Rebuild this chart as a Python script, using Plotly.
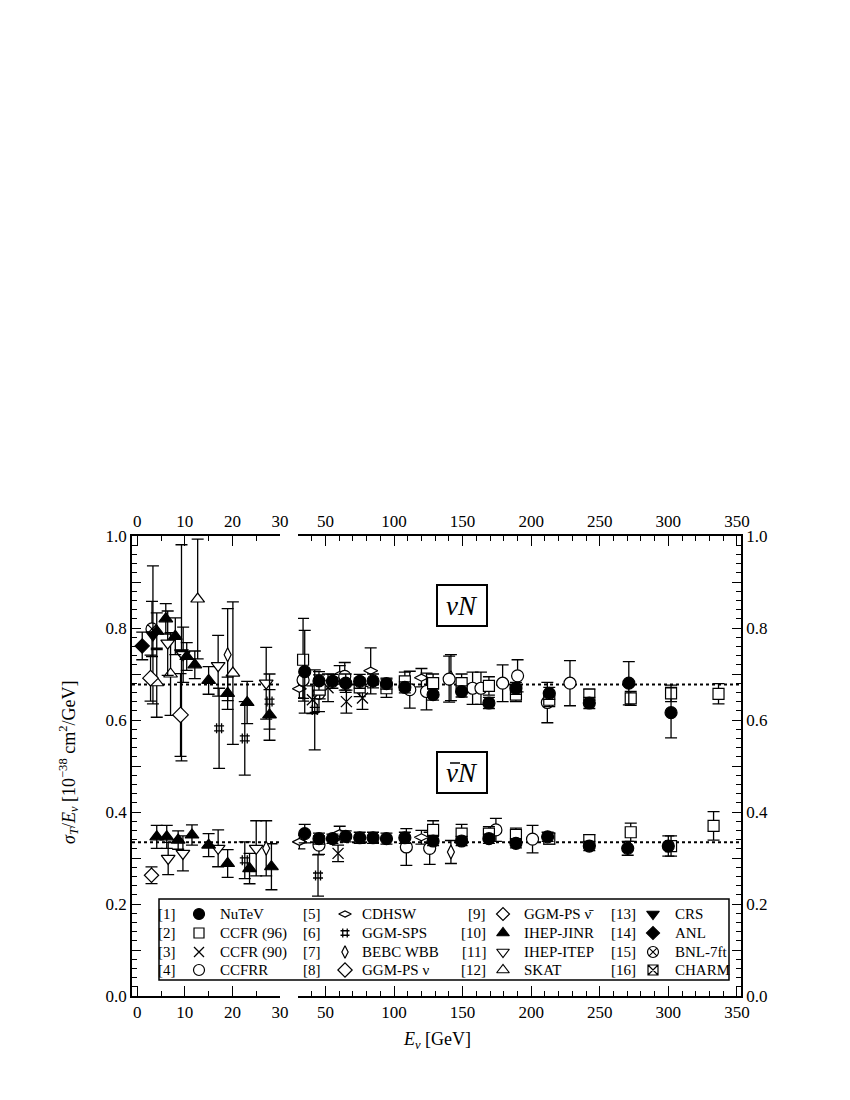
import plotly.graph_objects as go

FONT = "Liberation Serif"

# ---------------------------------------------------------------------------
# data: beam energy E [GeV], sigma_T / E [1e-38 cm^2/GeV] and its error
# "NU" = neutrino, "NB" = antineutrino
# ---------------------------------------------------------------------------
NUTEV_NU_E = [34.9, 45.3, 55.1, 64.8, 75.0, 84.7, 94.5, 107.9, 128.5, 149.3, 169.2, 188.9, 213.2, 242.4, 271.2, 302.0]
NUTEV_NU = [0.705, 0.685, 0.684, 0.680, 0.684, 0.685, 0.679, 0.671, 0.655, 0.662, 0.637, 0.669, 0.658, 0.637, 0.680, 0.616]
NUTEV_NU_ERR = [0.090, 0.020, 0.015, 0.020, 0.015, 0.015, 0.012, 0.012, 0.012, 0.012, 0.012, 0.013, 0.013, 0.012, 0.047, 0.055]
NUTEV_NB_E = [34.9, 45.3, 55.1, 64.8, 75.0, 84.7, 94.5, 107.9, 128.5, 149.3, 169.2, 188.9, 212.0, 242.4, 270.4, 300.0]
NUTEV_NB = [0.353, 0.342, 0.342, 0.347, 0.344, 0.344, 0.342, 0.344, 0.337, 0.337, 0.342, 0.332, 0.346, 0.326, 0.321, 0.326]
NUTEV_NB_ERR = [0.020, 0.012, 0.010, 0.012, 0.012, 0.012, 0.012, 0.012, 0.010, 0.010, 0.010, 0.010, 0.010, 0.010, 0.015, 0.022]

CCFR96_NU_E = [33.7, 45.8, 75.0, 94.5, 107.9, 128.5, 149.3, 169.2, 188.9, 213.2, 242.4, 272.6, 302.0, 336.6]
CCFR96_NU = [0.731, 0.666, 0.671, 0.669, 0.684, 0.680, 0.680, 0.674, 0.655, 0.644, 0.655, 0.647, 0.658, 0.657]
CCFR96_NU_ERR = [0.090, 0.020, 0.020, 0.020, 0.020, 0.020, 0.020, 0.020, 0.015, 0.015, 0.012, 0.015, 0.018, 0.022]
CCFR96_NB_E = [128.5, 149.3, 169.2, 188.9, 213.2, 242.4, 272.6, 302.0, 333.0]
CCFR96_NB = [0.361, 0.353, 0.353, 0.350, 0.342, 0.339, 0.356, 0.326, 0.370]
CCFR96_NB_ERR = [0.020, 0.020, 0.015, 0.015, 0.012, 0.012, 0.020, 0.022, 0.031]

CCFR90_NU_E = [40.5, 51.9, 65.3, 77.0]
CCFR90_NU = [0.644, 0.670, 0.640, 0.648]
CCFR90_NU_ERR = [0.030, 0.030, 0.025, 0.025]
CCFR90_NB_E = [59.2]
CCFR90_NB = [0.310]
CCFR90_NB_ERR = [0.018]

CCFRR_NU_E = [33.7, 45.3, 64.1, 111.5, 123.7, 140.2, 157.3, 163.4, 179.2, 190.1, 211.8, 228.3]
CCFRR_NU = [0.687, 0.658, 0.695, 0.666, 0.662, 0.689, 0.669, 0.669, 0.680, 0.696, 0.638, 0.680]
CCFRR_NU_ERR = [0.040, 0.040, 0.030, 0.040, 0.040, 0.050, 0.035, 0.035, 0.040, 0.035, 0.044, 0.049]
CCFRR_NB_E = [45.3, 109.0, 126.0, 174.3, 201.0]
CCFRR_NB = [0.328, 0.324, 0.321, 0.361, 0.341]
CCFRR_NB_ERR = [0.020, 0.040, 0.035, 0.025, 0.030]

CDHSW_NU_E = [31.0, 60.4, 83.0, 120.0]
CDHSW_NU = [0.668, 0.698, 0.707, 0.692]
CDHSW_NU_ERR = [0.020, 0.020, 0.050, 0.020]
CDHSW_NB_E = [31.0, 60.4, 120.0]
CDHSW_NB = [0.335, 0.354, 0.345]
CDHSW_NB_ERR = [0.015, 0.015, 0.015]

GGMSPS_NU_E = [17.2, 22.6, 27.8, 42.2]
GGMSPS_NU = [0.582, 0.560, 0.640, 0.622]
GGMSPS_NU_ERR = [0.087, 0.080, 0.060, 0.087]
GGMSPS_NB_E = [22.6, 44.6]
GGMSPS_NB = [0.295, 0.262]
GGMSPS_NB_ERR = [0.040, 0.045]

BEBC_NU_E = [19.0, 141.5]
BEBC_NU = [0.742, 0.692]
BEBC_NU_ERR = [0.100, 0.050]
BEBC_NB_E = [27.1, 141.5]
BEBC_NB = [0.321, 0.313]
BEBC_NB_ERR = [0.060, 0.025]

GGMPS_NU_E = [2.8, 9.1]
GGMPS_NU = [0.691, 0.611]
GGMPS_NU_ERR = [0.050, 0.090]

GGMPS_NB_E = [3.0]
GGMPS_NB = [0.2625]
GGMPS_NB_ERR = [0.018]

JINR_NU_E = [4.1, 6.0, 8.0, 10.4, 12.1, 15.0, 19.0, 23.1, 27.8]
JINR_NU = [0.793, 0.820, 0.782, 0.738, 0.720, 0.686, 0.658, 0.638, 0.611]
JINR_NU_ERR = [0.040, 0.033, 0.040, 0.030, 0.030, 0.030, 0.035, 0.046, 0.055]
JINR_NB_E = [4.1, 6.2, 8.6, 11.5, 15.0, 19.0, 23.6, 28.2]
JINR_NB = [0.346, 0.346, 0.339, 0.350, 0.328, 0.288, 0.277, 0.281]
JINR_NB_ERR = [0.025, 0.025, 0.020, 0.022, 0.025, 0.030, 0.033, 0.050]

ITEP_NU_E = [6.4, 9.65, 17.0, 27.1]
ITEP_NU = [0.767, 0.742, 0.718, 0.680]
ITEP_NU_ERR = [0.070, 0.060, 0.066, 0.078]
ITEP_NB_E = [6.5, 9.6, 17.0, 25.0]
ITEP_NB = [0.299, 0.310, 0.321, 0.321]
ITEP_NB_ERR = [0.035, 0.038, 0.040, 0.060]

SKAT_NU_E = [4.1, 7.0, 12.7, 20.1]
SKAT_NU = [0.681, 0.700, 0.863, 0.702]
SKAT_NU_ERR = [0.075, 0.090, 0.130, 0.155]

CRS_NU_E = [3.3, 9.3]
CRS_NU = [0.785, 0.746]
CRS_NU_ERR = [0.150, 0.235]

ANL_NU_E = [1.05]
ANL_NU = [0.761]
ANL_NU_ERR = [0.030]

BNL_NU_E = [3.1]
BNL_NU = [0.798]
BNL_NU_ERR = [0.060]

NU_AVG = 0.677
NB_AVG = 0.334

X_LEFT_TICKS = [0, 10, 20, 30]
X_RIGHT_TICKS = [50, 100, 150, 200, 250, 300, 350]
Y_LABEL_TICKS = [0.0, 0.2, 0.4, 0.6, 0.8, 1.0]
Y_MID_TICKS = [0.1, 0.3, 0.5, 0.7, 0.9]

# ---------------------------------------------------------------------------
# page geometry; the browser puts the figure 8 px in from the page corner,
# so everything below is given in screenshot pixels and shifted back
# ---------------------------------------------------------------------------
PAGE_W, PAGE_H = 850, 1100
OFF = 8
W, H = PAGE_W - OFF, PAGE_H - OFF
FRAME_L, FRAME_R, FRAME_T, FRAME_B = 132, 741, 536, 996
ML, MR, MT, MB = FRAME_L - OFF, PAGE_W - FRAME_R, FRAME_T - OFF, PAGE_H - FRAME_B
PW = FRAME_R - FRAME_L
PH = FRAME_B - FRAME_T
BREAK_E = 30.0
LEFT_RANGE = [-1.1, 30.0]
RIGHT_RANGE = [30.0, 353.0]
LEFT_END_PX = 280
RIGHT_START_PX = 298


def px_x(px):
    return (px - FRAME_L) / PW


def px_y(py):
    return (FRAME_B - py) / PH


NUBAR = "\u03bd\u0304"

# (ref, label, symbol, filled, size, nu data, nubar data)
EXPERIMENTS = [
    (1, "NuTeV", "circle", True, 12, (NUTEV_NU_E, NUTEV_NU, NUTEV_NU_ERR), (NUTEV_NB_E, NUTEV_NB, NUTEV_NB_ERR)),
    (2, "CCFR (96)", "square", False, 11, (CCFR96_NU_E, CCFR96_NU, CCFR96_NU_ERR), (CCFR96_NB_E, CCFR96_NB, CCFR96_NB_ERR)),
    (3, "CCFR (90)", "x-thin-open", False, 11, (CCFR90_NU_E, CCFR90_NU, CCFR90_NU_ERR), (CCFR90_NB_E, CCFR90_NB, CCFR90_NB_ERR)),
    (4, "CCFRR", "circle", False, 12, (CCFRR_NU_E, CCFRR_NU, CCFRR_NU_ERR), (CCFRR_NB_E, CCFRR_NB, CCFRR_NB_ERR)),
    (5, "CDHSW", "diamond-wide", False, 10, (CDHSW_NU_E, CDHSW_NU, CDHSW_NU_ERR), (CDHSW_NB_E, CDHSW_NB, CDHSW_NB_ERR)),
    (6, "GGM-SPS", "hash-open", False, 10, (GGMSPS_NU_E, GGMSPS_NU, GGMSPS_NU_ERR), (GGMSPS_NB_E, GGMSPS_NB, GGMSPS_NB_ERR)),
    (7, "BEBC WBB", "diamond-tall", False, 10, (BEBC_NU_E, BEBC_NU, BEBC_NU_ERR), (BEBC_NB_E, BEBC_NB, BEBC_NB_ERR)),
    (8, "GGM-PS \u03bd", "diamond", False, 12, (GGMPS_NU_E, GGMPS_NU, GGMPS_NU_ERR), None),
    (9, "GGM-PS " + NUBAR, "diamond", False, 11, None, (GGMPS_NB_E, GGMPS_NB, GGMPS_NB_ERR)),
    (10, "IHEP-JINR", "triangle-up", True, 12, (JINR_NU_E, JINR_NU, JINR_NU_ERR), (JINR_NB_E, JINR_NB, JINR_NB_ERR)),
    (11, "IHEP-ITEP", "triangle-down", False, 12, (ITEP_NU_E, ITEP_NU, ITEP_NU_ERR), (ITEP_NB_E, ITEP_NB, ITEP_NB_ERR)),
    (12, "SKAT", "triangle-up", False, 12, (SKAT_NU_E, SKAT_NU, SKAT_NU_ERR), None),
    (13, "CRS", "triangle-down", True, 12, (CRS_NU_E, CRS_NU, CRS_NU_ERR), None),
    (14, "ANL", "diamond", True, 11, (ANL_NU_E, ANL_NU, ANL_NU_ERR), None),
    (15, "BNL-7ft", "circle-x", False, 12, (BNL_NU_E, BNL_NU, BNL_NU_ERR), None),
    (16, "CHARM", "square-x", False, 11, None, None),
]


def marker_style(symbol, filled, size):
    if symbol.endswith("-open"):
        return dict(symbol=symbol, size=size, color="black", line=dict(color="black", width=1.3))
    return dict(
        symbol=symbol,
        size=size,
        color="black" if filled else "white",
        line=dict(color="black", width=1.2),
    )


def add_series(fig, data, marker):
    energies, vals, errs = data
    for lo, hi, xa in ((-100.0, BREAK_E, "x"), (BREAK_E, 1e4, "x2")):
        idx = [i for i, e in enumerate(energies) if lo <= e < hi]
        if not idx:
            continue
        fig.add_trace(
            go.Scatter(
                x=[energies[i] for i in idx],
                y=[vals[i] for i in idx],
                error_y=dict(
                    type="data",
                    array=[errs[i] for i in idx],
                    color="black",
                    thickness=1.3,
                    width=6,
                ),
                mode="markers",
                marker=marker,
                xaxis=xa,
                yaxis="y",
                cliponaxis=False,
                showlegend=False,
                hoverinfo="x+y",
            )
        )


fig = go.Figure()

# NuTeV drawn last so it sits on top
for ref, label, symbol, filled, size, nu, nb in reversed(EXPERIMENTS):
    m = marker_style(symbol, filled, size)
    if nu is not None:
        add_series(fig, nu, m)
    if nb is not None:
        add_series(fig, nb, m)

# empty traces so the mirrored axes get drawn
for xa, ya in (("x3", "y"), ("x4", "y"), ("x2", "y2"), ("x", "y4"), ("x2", "y5")):
    fig.add_trace(go.Scatter(x=[], y=[], xaxis=xa, yaxis=ya, showlegend=False))

# average lines
for avg in (NU_AVG, NB_AVG):
    for xa in ("x", "x2"):
        fig.add_shape(
            type="line",
            xref=xa + " domain",
            x0=0,
            x1=1,
            yref="y",
            y0=avg,
            y1=avg,
            line=dict(color="black", width=2, dash="3px,3px"),
            layer="below",
        )

# ---------------------------------------------------------------------------
# legend box
# ---------------------------------------------------------------------------
LEG_BOX = (159, 899, 729, 980)
LEG_ROWS = [914, 933, 952, 970]
LEG_REF_RIGHT = [178, 323, 488, 638]
LEG_SYMBOL_X = [199, 345, 503, 653]
LEG_TEXT_LEFT = [218, 360, 522, 673]

fig.add_shape(
    type="rect",
    xref="paper",
    yref="paper",
    x0=px_x(LEG_BOX[0]),
    x1=px_x(LEG_BOX[2]),
    y0=px_y(LEG_BOX[3]),
    y1=px_y(LEG_BOX[1]),
    line=dict(color="black", width=1.5),
    fillcolor="white",
    layer="below",
)

for k, (ref, label, symbol, filled, size, nu, nb) in enumerate(EXPERIMENTS):
    col, row = divmod(k, 4)
    ypos = px_y(LEG_ROWS[row])
    fig.add_annotation(
        x=px_x(LEG_REF_RIGHT[col]), y=ypos, xref="paper", yref="paper",
        text=f"[{ref}]", showarrow=False, xanchor="right", yanchor="middle",
        font=dict(family=FONT, size=15, color="black"),
    )
    fig.add_annotation(
        x=px_x(LEG_TEXT_LEFT[col]), y=ypos, xref="paper", yref="paper",
        text=label, showarrow=False, xanchor="left", yanchor="middle",
        font=dict(family=FONT, size=15, color="black"),
    )
    fig.add_trace(
        go.Scatter(
            x=[px_x(LEG_SYMBOL_X[col])],
            y=[ypos],
            mode="markers",
            marker=marker_style(symbol, filled, size - 1),
            xaxis="x5",
            yaxis="y3",
            showlegend=False,
            hoverinfo="skip",
            cliponaxis=False,
        )
    )

# reaction labels (the antineutrino bar is drawn as a short line over the nu)
for text, cy in (("<i>\u03bdN</i>", 605), ("<i>\u03bdN</i>", 772)):
    fig.add_annotation(
        x=px_x(462), y=px_y(cy), xref="paper", yref="paper",
        text=text, showarrow=False, xanchor="center", yanchor="middle",
        font=dict(family=FONT, size=27, color="black"),
        bordercolor="black", borderwidth=2, bgcolor="rgba(0,0,0,0)",
        width=46, height=37,
    )
fig.add_shape(
    type="line", xref="paper", yref="paper",
    x0=px_x(450), x1=px_x(460), y0=px_y(763), y1=px_y(763),
    line=dict(color="black", width=1.5), layer="above",
)

# axis titles
fig.add_annotation(
    x=px_x(437), y=px_y(1040), xref="paper", yref="paper",
    text="<i>E<sub>\u03bd</sub></i> [GeV]", showarrow=False,
    xanchor="center", yanchor="middle",
    font=dict(family=FONT, size=18, color="black"),
)
fig.add_annotation(
    x=px_x(68), y=px_y(762), xref="paper", yref="paper",
    text="<i>\u03c3<sub>T</sub></i>/<i>E<sub>\u03bd</sub></i> [10<sup>\u221238</sup> cm<sup>2</sup>/GeV]",
    showarrow=False, textangle=-90, xanchor="center", yanchor="middle",
    font=dict(family=FONT, size=18, color="black"),
)

# ---------------------------------------------------------------------------
# axes
# ---------------------------------------------------------------------------
left_dom = [0.0, px_x(LEFT_END_PX)]
right_dom = [px_x(RIGHT_START_PX), 1.0]

common = dict(
    showline=True,
    linecolor="black",
    linewidth=1.5,
    ticks="inside",
    tickcolor="black",
    tickwidth=1.3,
    showgrid=False,
    zeroline=False,
    tickfont=dict(family=FONT, size=17, color="black"),
    fixedrange=True,
)

xl_minor = dict(tickvals=[5, 15, 25], ticks="inside", ticklen=5, tickcolor="black", tickwidth=1.2)
xr_minor = dict(dtick=10, tick0=0, ticks="inside", ticklen=5, tickcolor="black", tickwidth=1.2)
y_minor = dict(dtick=0.02, tick0=0, ticks="inside", ticklen=5, tickcolor="black", tickwidth=1.2)
y_text = [f"{v:.1f}" for v in Y_LABEL_TICKS]
y_mid = dict(overlaying="y", range=[0, 1], tickvals=Y_MID_TICKS, showticklabels=False,
             ticks="inside", ticklen=9, tickcolor="black", tickwidth=1.3,
             showline=False, showgrid=False, zeroline=False, fixedrange=True)

fig.update_layout(
    width=W,
    height=H,
    margin=dict(l=ML, r=MR, t=MT, b=MB),
    paper_bgcolor="white",
    plot_bgcolor="rgba(0,0,0,0)",
    showlegend=False,
    font=dict(family=FONT, color="black"),
    xaxis=dict(domain=left_dom, range=LEFT_RANGE, anchor="y", tickvals=X_LEFT_TICKS,
               ticklen=10, minor=xl_minor, **common),
    xaxis3=dict(overlaying="x", side="top", anchor="y", range=LEFT_RANGE,
                tickvals=X_LEFT_TICKS, ticklen=10, minor=xl_minor, **common),
    xaxis2=dict(domain=right_dom, range=RIGHT_RANGE, anchor="y", tickvals=X_RIGHT_TICKS,
                ticklen=10, minor=xr_minor, **common),
    xaxis4=dict(overlaying="x2", side="top", anchor="y", range=RIGHT_RANGE,
                tickvals=X_RIGHT_TICKS, ticklen=10, minor=xr_minor, **common),
    yaxis=dict(domain=[0, 1], range=[0, 1], anchor="x", tickvals=Y_LABEL_TICKS, ticktext=y_text,
               ticklen=9, minor=y_minor, **common),
    yaxis2=dict(overlaying="y", side="right", anchor="x2", range=[0, 1], tickvals=Y_LABEL_TICKS,
                ticktext=y_text, ticklen=9, minor=y_minor, **common),
    yaxis4=dict(side="left", anchor="x", **y_mid),
    yaxis5=dict(side="right", anchor="x2", **y_mid),
    xaxis5=dict(domain=[0, 1], range=[0, 1], anchor="y3", visible=False, fixedrange=True),
    yaxis3=dict(domain=[0, 1], range=[0, 1], anchor="x5", visible=False, fixedrange=True),
)

fig.write_html("out.html")
